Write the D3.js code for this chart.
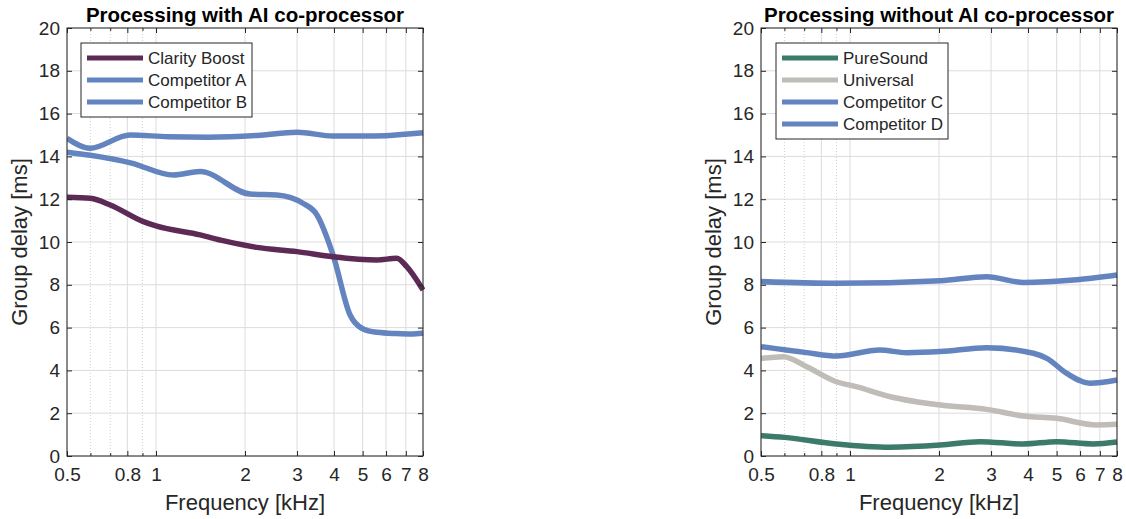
<!DOCTYPE html>
<html>
<head>
<meta charset="utf-8">
<script src="https://cdn.jsdelivr.net/npm/d3@7"></script>
<style>
  body { margin: 0; background: #fff; }
  text { font-family: "Liberation Sans", Arial, sans-serif; fill: #262626; }
</style>
</head>
<body>
<div id="chart"></div>
<script>
// frequency axis (kHz)
const xTicks = [0.5, 0.8, 1, 2, 3, 4, 5, 6, 7, 8]
const xMinor = [0.6, 0.7, 0.9]
const yTicks = [0, 2, 4, 6, 8, 10, 12, 14, 16, 18, 20]

// left panel: with AI co-processor
const clarityFreq = [0.5, 0.6, 0.7, 0.906, 1, 1.41, 1.7, 2.19, 3.0, 3.97, 5.58, 6.52, 7.05, 8]
const clarityDelay = [12.09, 12.04, 11.73, 10.95, 10.75, 10.33, 10.05, 9.75, 9.55, 9.31, 9.16, 9.24, 8.85, 7.76]

const compAFreq = [0.5, 0.598, 0.817, 1.1, 1.5, 2.2, 3.0, 3.97, 5.0, 6.0, 8]
const compADelay = [14.85, 14.38, 15.0, 14.92, 14.9, 14.98, 15.13, 14.95, 14.95, 14.97, 15.1]

const compBFreq = [0.5, 0.6, 0.82, 1.145, 1.41, 2.08, 2.56, 3.15, 3.49, 3.97, 4.53, 5.0, 5.6, 6.5, 7.3, 8]
const compBDelay = [14.2, 14.05, 13.7, 13.13, 13.29, 12.24, 12.2, 11.8, 11.3, 9.4, 6.6, 5.95, 5.78, 5.72, 5.7, 5.75]

// right panel: without AI co-processor
const pureFreq = [0.5, 0.6, 0.9, 1.37, 2.02, 2.75, 3.86, 5.0, 6.65, 8]
const pureDelay = [0.95, 0.87, 0.56, 0.41, 0.51, 0.67, 0.56, 0.67, 0.56, 0.65]

const univFreq = [0.5, 0.595, 0.714, 0.9, 1.05, 1.37, 2.02, 2.9, 3.86, 5.0, 6.83, 8]
const univDelay = [4.56, 4.64, 4.17, 3.47, 3.24, 2.77, 2.38, 2.18, 1.87, 1.76, 1.45, 1.48]

const compCFreq = [0.5, 0.9, 2.02, 2.9, 3.86, 5.69, 8]
const compCDelay = [8.15, 8.07, 8.19, 8.38, 8.11, 8.22, 8.46]

const compDFreq = [0.5, 0.714, 0.9, 1.26, 1.555, 2.02, 2.9, 4.17, 4.63, 5.41, 6.48, 8]
const compDDelay = [5.11, 4.83, 4.67, 4.95, 4.83, 4.88, 5.06, 4.8, 4.56, 3.86, 3.4, 3.55]

const panels = [
  {
    title: 'Processing with AI co-processor',
    left: 67,
    legend: {x: 81, y: 43, w: 171},
    series: [
      {name: 'Clarity Boost', color: '#5c2a55', f: clarityFreq, v: clarityDelay},
      {name: 'Competitor A', color: '#6384bf', f: compAFreq, v: compADelay},
      {name: 'Competitor B', color: '#6384bf', f: compBFreq, v: compBDelay}
    ]
  },
  {
    title: 'Processing without AI co-processor',
    left: 761,
    legend: {x: 776, y: 43, w: 172},
    series: [
      {name: 'PureSound', color: '#3c7a6a', f: pureFreq, v: pureDelay},
      {name: 'Universal', color: '#c0bcb7', f: univFreq, v: univDelay},
      {name: 'Competitor C', color: '#6384bf', f: compCFreq, v: compCDelay},
      {name: 'Competitor D', color: '#6384bf', f: compDFreq, v: compDDelay}
    ]
  }
]

const W = 1126, H = 519
const plotW = 356
const plotTop = 28, plotBottom = 456

const svg = d3.select('#chart').append('svg')
  .attr('width', W)
  .attr('height', H)

const ys = d3.scaleLinear().domain([0, 20]).range([plotBottom, plotTop])

panels.forEach(p => {
  const xs = d3.scaleLog().domain([0.5, 8]).range([p.left, p.left + plotW])
  const g = svg.append('g')

  // grid
  g.append('g').selectAll('line')
    .data(yTicks).enter().append('line')
    .attr('x1', p.left).attr('x2', p.left + plotW)
    .attr('y1', d => ys(d)).attr('y2', d => ys(d))
    .attr('stroke', '#dcdcdc').attr('stroke-width', 1)
  g.append('g').selectAll('line')
    .data(xTicks).enter().append('line')
    .attr('x1', d => xs(d)).attr('x2', d => xs(d))
    .attr('y1', plotTop).attr('y2', plotBottom)
    .attr('stroke', '#dcdcdc').attr('stroke-width', 1)
  g.append('g').selectAll('line')
    .data(xMinor).enter().append('line')
    .attr('x1', d => xs(d)).attr('x2', d => xs(d))
    .attr('y1', plotTop).attr('y2', plotBottom)
    .attr('stroke', '#d0d0d0').attr('stroke-width', 1)
    .attr('stroke-dasharray', '1,2')

  // series
  const line = d3.line()
    .x(d => xs(d[0]))
    .y(d => ys(d[1]))
    .curve(d3.curveMonotoneX)
  const clip = 'clip' + p.left
  svg.append('clipPath').attr('id', clip)
    .append('rect').attr('x', p.left).attr('y', plotTop - 10)
    .attr('width', plotW + 2).attr('height', plotBottom - plotTop + 20)
  g.append('g').attr('clip-path', `url(#${clip})`)
    .selectAll('path')
    .data(p.series.slice().reverse()).enter().append('path')
    .attr('d', s => line(s.f.map((f, i) => [f, s.v[i]])))
    .attr('fill', 'none')
    .attr('stroke', s => s.color)
    .attr('stroke-width', 5.5)
    .attr('stroke-linejoin', 'round')
    .attr('stroke-linecap', 'butt')

  // axes (ticks inside, box)
  const styleAxis = a => {
    a.select('.domain').remove()
    a.selectAll('line').attr('stroke', '#262626')
    a.selectAll('text').attr('font-size', 19).style('fill', '#262626')
      .attr('font-family', '"Liberation Sans", Arial, sans-serif')
  }
  g.append('g').attr('transform', `translate(0,${plotBottom})`)
    .call(d3.axisBottom(xs).tickValues(xTicks).tickFormat(d3.format('~g'))
      .tickSizeInner(-5).tickSizeOuter(0).tickPadding(12))
    .call(styleAxis)
  g.append('g').attr('transform', `translate(0,${plotTop})`)
    .call(d3.axisTop(xs).tickValues(xTicks).tickFormat('').tickSizeInner(-5).tickSizeOuter(0))
    .call(styleAxis)
  g.append('g').attr('transform', `translate(0,${plotBottom})`)
    .call(d3.axisBottom(xs).tickValues(xMinor).tickFormat('').tickSizeInner(-3).tickSizeOuter(0))
    .call(styleAxis)
  g.append('g').attr('transform', `translate(0,${plotTop})`)
    .call(d3.axisTop(xs).tickValues(xMinor).tickFormat('').tickSizeInner(-3).tickSizeOuter(0))
    .call(styleAxis)
  g.append('g').attr('transform', `translate(${p.left},0)`)
    .call(d3.axisLeft(ys).tickValues(yTicks).tickSizeInner(-5).tickSizeOuter(0).tickPadding(7))
    .call(styleAxis)
  g.append('g').attr('transform', `translate(${p.left + plotW},0)`)
    .call(d3.axisRight(ys).tickValues(yTicks).tickFormat('').tickSizeInner(-5).tickSizeOuter(0))
    .call(styleAxis)

  g.append('rect')
    .attr('x', p.left).attr('y', plotTop)
    .attr('width', plotW).attr('height', plotBottom - plotTop)
    .attr('fill', 'none').attr('stroke', '#262626').attr('stroke-width', 1)

  // labels
  g.append('text')
    .attr('x', p.left + plotW / 2).attr('y', 22)
    .attr('text-anchor', 'middle')
    .attr('font-size', 20.5).attr('font-weight', 'bold')
    .style('fill', '#000')
    .text(p.title)
  g.append('text')
    .attr('x', p.left + plotW / 2).attr('y', 510)
    .attr('text-anchor', 'middle')
    .attr('font-size', 22)
    .text('Frequency [kHz]')
  g.append('text')
    .attr('transform', `translate(${p.left - 40},${(plotTop + plotBottom) / 2}) rotate(-90)`)
    .attr('text-anchor', 'middle')
    .attr('font-size', 22)
    .text('Group delay [ms]')

  // legend
  const lg = g.append('g').attr('transform', `translate(${p.legend.x},${p.legend.y})`)
  lg.append('rect')
    .attr('width', p.legend.w).attr('height', 15 + 22 * p.series.length - 7)
    .attr('fill', '#fff').attr('stroke', '#262626').attr('stroke-width', 1)
  p.series.forEach((s, i) => {
    const yy = 15 + 22 * i
    lg.append('line')
      .attr('x1', 6).attr('x2', 62).attr('y1', yy).attr('y2', yy)
      .attr('stroke', s.color).attr('stroke-width', 5)
    lg.append('text')
      .attr('x', 67).attr('y', yy + 6)
      .attr('font-size', 17)
      .text(s.name)
  })
})
</script>
</body>
</html>
